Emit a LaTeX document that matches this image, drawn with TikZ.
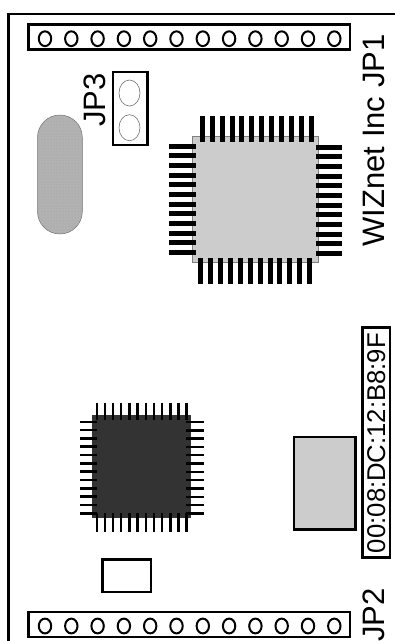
\documentclass[tikz,border=0pt]{standalone}
\usepackage{fontspec}
\setmainfont{Liberation Sans}
\usetikzlibrary{patterns}
\tikzset{
  x=1pt,y=-1pt,
  heavy/.style={draw=black,line width=2.4pt},
  header/.style={draw=black,line width=2.4pt,fill=white},
  hole/.style={draw=black,line width=2pt},
  jumperhole/.style={draw=black!55,line width=.6pt},
  pinbig/.style={fill=black},
  pinsmall/.style={draw=black,line width=2.4pt},
  lbl/.style={rotate=90,anchor=base,inner sep=0pt,font=\fontsize{31}{36}\selectfont},
  maclbl/.style={rotate=90,anchor=base,inner sep=0pt,font=\fontsize{25.7}{30}\selectfont},
}
\begin{document}
\begin{tikzpicture}
\useasboundingbox (0,0) rectangle (395,641);
\draw[line width=2.4pt,black] (395,14) -- (8.5,14) -- (8.5,641);
% headers
\draw[header] (28.5,24.5) rectangle (350,49.5);
\draw[header] (28.5,612) rectangle (350,637);
\foreach \i in {0,...,11}{
  \draw[hole] ({45+26.3*\i},38.7) ellipse [x radius=6.2,y radius=7.4];
  \draw[hole] ({45+26.3*\i},626) ellipse [x radius=6.2,y radius=7.4];
}
% JP3
\draw[heavy] (113.2,72) rectangle (147.5,145);
\draw[jumperhole] (129.5,93) ellipse [x radius=10.5,y radius=13];
\draw[jumperhole] (129.5,127.7) ellipse [x radius=10.5,y radius=13];
% crystal
\path[fill=black!30,draw=black!55,line width=.5pt,rounded corners=22.4pt] (37.5,115) rectangle (82.3,234);
\path[pattern=dots,pattern color=black!38,rounded corners=22.4pt] (37.5,115) rectangle (82.3,234);
% big chip
\draw[fill=black!20,draw=black!50,line width=.6pt] (192.3,136.7) rectangle (318,262.3);
\foreach \i in {0,...,11}{
  \fill[pinbig] ({202.3+9.9*\i-2.5},115.5) rectangle ({202.3+9.9*\i+2.5},141.7);
  \fill[pinbig] ({200.7+9.9*\i-2.5},258) rectangle ({200.7+9.9*\i+2.5},284);
  \fill[pinbig] (169.3,{146.3+9.64*\i-2.5}) rectangle (196,{146.3+9.64*\i+2.5});
  \fill[pinbig] (315.7,{147.3+9.64*\i-2.5}) rectangle (342,{147.3+9.64*\i+2.5});
}
% dark chip
\fill[black!80] (92.3,415) rectangle (190.7,518.3);
\foreach \i in {0,...,11}{
  \draw[pinsmall] ({96.7+8.18*\i},402.7) -- ({96.7+8.18*\i},420);
  \draw[pinsmall] ({96.7+8.18*\i},513) -- ({96.7+8.18*\i},532);
  \draw[pinsmall] (80,{421.7+8.33*\i}) -- (97,{421.7+8.33*\i});
  \draw[pinsmall] (186,{422+8.3*\i}) -- (204,{422+8.3*\i});
}
% small rect
\draw[heavy] (102.5,559.5) rectangle (151,592);
% grey rect
\draw[heavy,fill=black!20] (294,437) rectangle (355.3,529.3);
% MAC
\draw[heavy] (362.3,327.5) rectangle (390,557.3);
\node[maclbl] (mac) at (385,443) {00:08:DC:12:B8:9F};
\node[lbl] (wiz) at (384,140.5) {WIZnet Inc JP1};
\node[lbl] (jp3) at (105,100) {JP3};
\node[lbl] (jp2) at (384,615) {JP2};
\end{tikzpicture}
\end{document}
